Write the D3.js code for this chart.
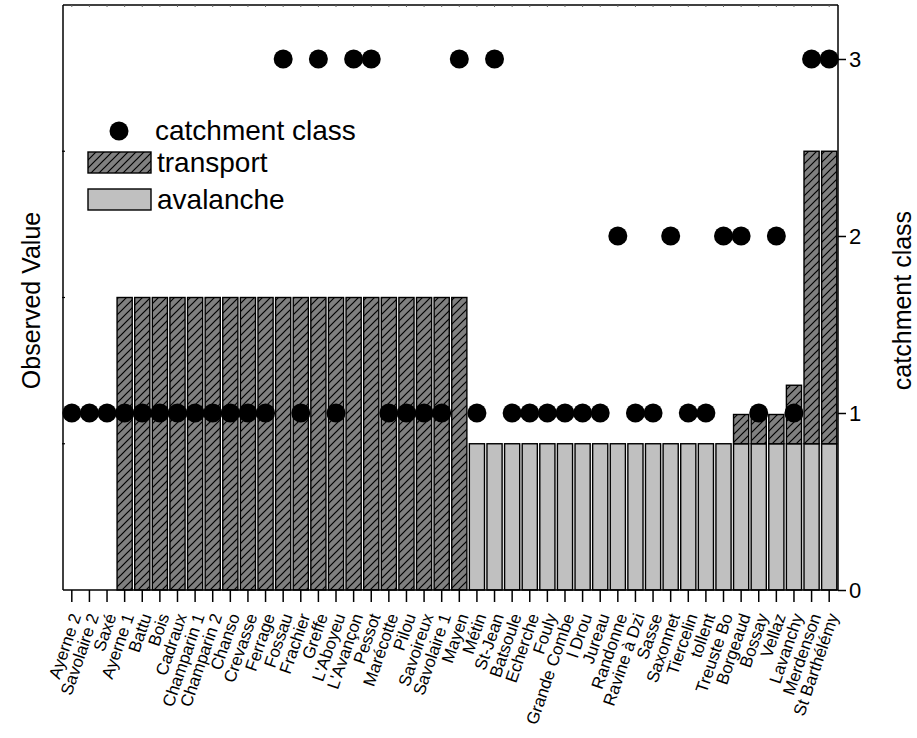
<!DOCTYPE html>
<html>
<head>
<meta charset="utf-8">
<script src="https://cdn.jsdelivr.net/npm/d3@7"></script>
<style>
  body { margin: 0; background: #fff; }
  svg { font-family: "Liberation Sans", Arial, sans-serif; }
</style>
</head>
<body>
<svg id="chart" width="917" height="738"></svg>
<script>
const categories = ["Ayerne 2","Savolaire 2","Saxé","Ayerne 1","Battu","Bois","Cadraux","Champarin 1","Champarin 2","Chanso","Crevasse","Ferrage","Fossau","Frachier","Greffe","L'Aboyeu","L'Avançon","Pessot","Marécotte","Pilou","Savoireux","Savolaire 1","Mayen","Métin","St-Jean","Batsoule","Echerche","Fouly","Grande Combe","l Drou","Jureau","Randonne","Ravine à Dzi","Sasse","Saxonnet","Tiercelin","tollent","Treuste Bo","Borgeaud","Bossay","Vellaz","Lavanchy","Merdenson","St Barthélémy"];
const avalanche = [0,0,0,0,0,0,0,0,0,0,0,0,0,0,0,0,0,0,0,0,0,0,0,1,1,1,1,1,1,1,1,1,1,1,1,1,1,1,1,1,1,1,1,1];
const transport = [0,0,0,2,2,2,2,2,2,2,2,2,2,2,2,2,2,2,2,2,2,2,2,0,0,0,0,0,0,0,0,0,0,0,0,0,0,0,0.2,0.2,0.2,0.4,2,2];
const catchmentClass = [1,1,1,1,1,1,1,1,1,1,1,1,3,1,3,1,3,3,1,1,1,1,3,1,3,1,1,1,1,1,1,2,1,1,2,1,1,2,2,1,2,1,3,3];
const rightTicks = [0,1,2,3];
const leftTicks = [1,2,3];

const svg = d3.select("#chart");
const L = 63, R = 838, T = 5, B = 590;

const x = d3.scaleBand().domain(categories).range([L, R]).paddingInner(0.14).paddingOuter(0.07);
const yL = d3.scaleLinear().domain([0, 4]).range([B, T]);
const yR = d3.scaleLinear().domain([0, 3.305]).range([B, T]);

const defs = svg.append("defs");
const pat = defs.append("pattern").attr("id", "hatch").attr("patternUnits", "userSpaceOnUse")
  .attr("width", 8).attr("height", 8);
pat.append("rect").attr("width", 8).attr("height", 8).attr("fill", "#808080");
pat.append("path").attr("d", "M-2,2 L2,-2 M0,8 L8,0 M6,10 L10,6")
  .attr("stroke", "#000").attr("stroke-width", 1.2);

const data = categories.map((c, i) => ({c, a: avalanche[i], t: transport[i], k: catchmentClass[i]}));

// avalanche bars
svg.append("g").selectAll("rect").data(data.filter(d => d.a > 0)).join("rect")
  .attr("x", d => x(d.c)).attr("width", x.bandwidth())
  .attr("y", d => yL(d.a)).attr("height", d => yL(0) - yL(d.a))
  .attr("fill", "#c0c0c0").attr("stroke", "#000").attr("stroke-width", 1.4);

// transport bars (stacked on avalanche)
svg.append("g").selectAll("rect").data(data.filter(d => d.t > 0)).join("rect")
  .attr("x", d => x(d.c)).attr("width", x.bandwidth())
  .attr("y", d => yL(d.a + d.t)).attr("height", d => yL(d.a) - yL(d.a + d.t))
  .attr("fill", "url(#hatch)").attr("stroke", "#000").attr("stroke-width", 1.4);

// frame
svg.append("line").attr("x1", L).attr("x2", R).attr("y1", T).attr("y2", T).attr("stroke", "#000").attr("stroke-width", 1.5);
svg.append("line").attr("x1", L).attr("x2", L).attr("y1", T).attr("y2", B).attr("stroke", "#000").attr("stroke-width", 1.5);
svg.append("line").attr("x1", R).attr("x2", R).attr("y1", T).attr("y2", B).attr("stroke", "#000").attr("stroke-width", 1.5);
svg.append("line").attr("x1", L).attr("x2", R).attr("y1", B).attr("y2", B).attr("stroke", "#000").attr("stroke-width", 1.5);

// top minor ticks
svg.append("g").selectAll("line").data(categories).join("line")
  .attr("x1", d => x(d) + x.bandwidth() / 2).attr("x2", d => x(d) + x.bandwidth() / 2)
  .attr("y1", T).attr("y2", T + 2).attr("stroke", "#666").attr("stroke-width", 1);

// left minor ticks (no labels)
svg.append("g").selectAll("line").data(leftTicks).join("line")
  .attr("x1", L - 1).attr("x2", L + 2).attr("y1", d => yL(d)).attr("y2", d => yL(d))
  .attr("stroke", "#000").attr("stroke-width", 1.2);

// bottom axis
const xAxis = svg.append("g").attr("transform", `translate(0,${B})`)
  .call(d3.axisBottom(x).tickSize(12).tickSizeOuter(0).tickPadding(3));
xAxis.select(".domain").remove();
xAxis.selectAll(".tick line").attr("stroke-width", 1.5);
xAxis.selectAll(".tick text")
  .attr("font-size", 17).attr("fill", "#000")
  .attr("text-anchor", "end")
  .attr("transform", "translate(4,24) rotate(-71)")
  .attr("x", 0).attr("y", 0).attr("dy", "0.35em");

// right axis
const rAxis = svg.append("g").attr("transform", `translate(${R},0)`)
  .call(d3.axisRight(yR).tickValues(rightTicks).tickFormat(d3.format("d")).tickSize(8).tickPadding(3));
rAxis.select(".domain").remove();
rAxis.selectAll(".tick line").attr("stroke-width", 1.5);
rAxis.selectAll(".tick text").attr("font-size", 22).attr("fill", "#000");

// dots
svg.append("g").selectAll("circle").data(data).join("circle")
  .attr("cx", d => x(d.c) + x.bandwidth() / 2).attr("cy", d => yR(d.k))
  .attr("r", 9.5).attr("fill", "#000");

// axis titles
svg.append("text").attr("transform", `translate(40,${(T + B) / 2 + 3}) rotate(-90)`)
  .attr("text-anchor", "middle").attr("font-size", 25).text("Observed Value");
svg.append("text").attr("transform", `translate(911,${(T + B) / 2 + 3}) rotate(-90)`)
  .attr("text-anchor", "middle").attr("font-size", 25).text("catchment class");

// legend
const lg = svg.append("g");
lg.append("circle").attr("cx", 119).attr("cy", 131).attr("r", 9.5).attr("fill", "#000");
lg.append("text").attr("x", 155).attr("y", 140).attr("font-size", 28).text("catchment class");
lg.append("rect").attr("x", 88).attr("y", 152).attr("width", 63).attr("height", 21)
  .attr("fill", "url(#hatch)").attr("stroke", "#000").attr("stroke-width", 1.4);
lg.append("text").attr("x", 157).attr("y", 172).attr("font-size", 28).text("transport");
lg.append("rect").attr("x", 88).attr("y", 189).attr("width", 63).attr("height", 21)
  .attr("fill", "#c0c0c0").attr("stroke", "#000").attr("stroke-width", 1.4);
lg.append("text").attr("x", 157).attr("y", 209).attr("font-size", 28).text("avalanche");
</script>
</body>
</html>
